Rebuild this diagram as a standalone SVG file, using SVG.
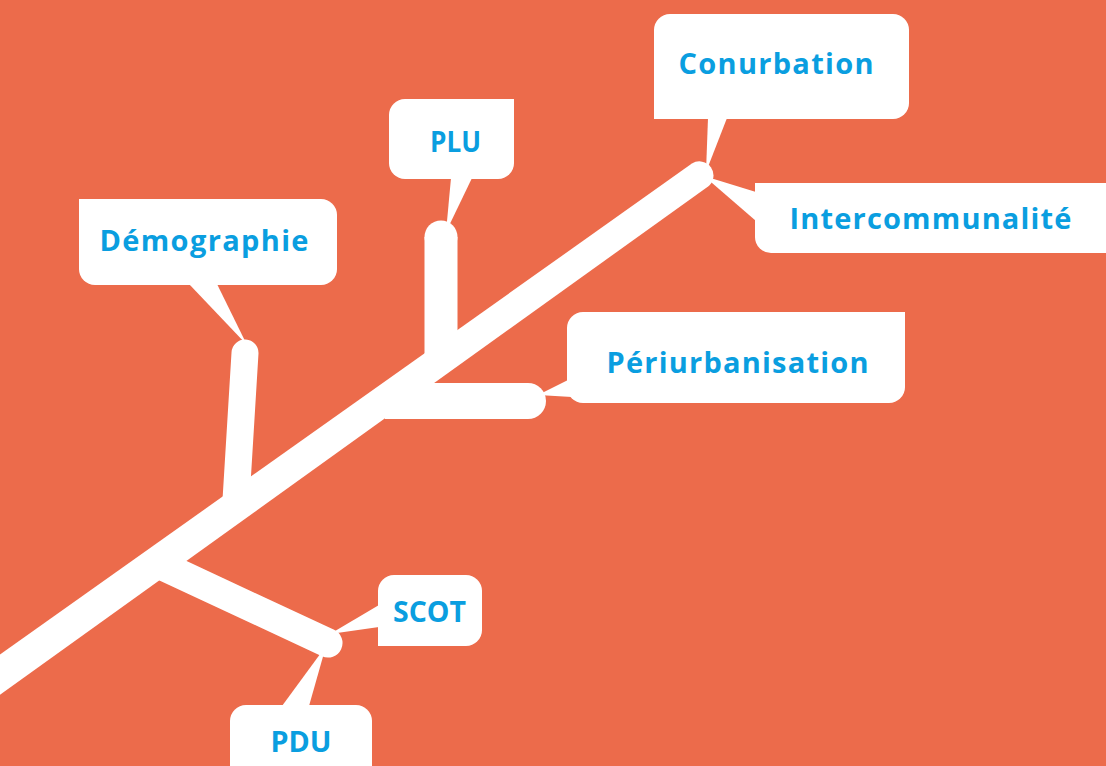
<svg xmlns="http://www.w3.org/2000/svg" width="1106" height="766" viewBox="0 0 1106 766">
<style>
.box{fill:#ffffff}
.br{stroke:#ffffff;fill:none}
.lbl{font-family:"Open Sans","Noto Sans","Liberation Sans",sans-serif;font-weight:bold;font-size:29px;fill:#0A9EE0;text-anchor:middle}
</style>
<rect width="1106" height="766" fill="#EC6B4B"/>
<g id="connectors">
<path id="trunk" fill="#ffffff" d="M-39.6,682.6 L691.9,163.6 A14,14 0 0 1 708.1,186.4 L-20.4,709.4 Z"/>
<line class="br" x1="245" y1="353" x2="236" y2="500" stroke-width="27" stroke-linecap="round"/>
<line class="br" x1="441" y1="237" x2="441" y2="365" stroke-width="33"/>
<circle cx="441" cy="237" r="16.5" fill="#ffffff"/>
<line class="br" x1="385" y1="401" x2="528" y2="401" stroke-width="36"/>
<circle cx="528" cy="401" r="18" fill="#ffffff"/>
<line class="br" x1="165" y1="567" x2="328" y2="643" stroke-width="29" stroke-linecap="round"/>
</g>
<g id="node-conurbation">
<polygon class="box" points="708,118 727,118 706,172"/>
<path class="box" d="M654,30 A16,16 0 0 1 670,14 H893 A16,16 0 0 1 909,30 V103 A16,16 0 0 1 893,119 H654 Z"/>
<text class="lbl" x="776" y="74" textLength="195">Conurbation</text>
</g>
<g id="node-intercommunalite">
<polygon class="box" points="704,176 756,192 756,221"/>
<path class="box" d="M755,183 H1110 V253 H771 A16,16 0 0 1 755,237 Z"/>
<text class="lbl" x="930.5" y="229" textLength="282">Intercommunalité</text>
</g>
<g id="node-plu">
<polygon class="box" points="451,178 472,178 446,232"/>
<path class="box" d="M405,99 H514 V163 A16,16 0 0 1 498,179 H405 A16,16 0 0 1 389,163 V115 A16,16 0 0 1 405,99 Z"/>
<text class="lbl" x="455.5" y="152" textLength="51" lengthAdjust="spacingAndGlyphs">PLU</text>
</g>
<g id="node-demographie">
<polygon class="box" points="189,284 217,284 247,345"/>
<path class="box" d="M79,199 H321 A16,16 0 0 1 337,215 V269 A16,16 0 0 1 321,285 H95 A16,16 0 0 1 79,269 Z"/>
<text class="lbl" x="204" y="251" textLength="209">Démographie</text>
</g>
<g id="node-periurbanisation">
<polygon class="box" points="538,395 568,380 572,397"/>
<path class="box" d="M583,312 H905 V387 A16,16 0 0 1 889,403 H583 A16,16 0 0 1 567,387 V328 A16,16 0 0 1 583,312 Z"/>
<text class="lbl" x="737.5" y="372.5" textLength="262">Périurbanisation</text>
</g>
<g id="node-scot">
<polygon class="box" points="330,634 379,605 379,627"/>
<path class="box" d="M378,591 A16,16 0 0 1 394,575 H466 A16,16 0 0 1 482,591 V630 A16,16 0 0 1 466,646 H378 Z"/>
<text class="lbl" x="429.5" y="622" textLength="73" lengthAdjust="spacingAndGlyphs">SCOT</text>
</g>
<g id="node-pdu">
<polygon class="box" points="326,646 282,706 309,706"/>
<path class="box" d="M230,721 A16,16 0 0 1 246,705 H356 A16,16 0 0 1 372,721 V780 H230 Z"/>
<text class="lbl" x="301" y="752" textLength="61" lengthAdjust="spacingAndGlyphs">PDU</text>
</g>
</svg>
